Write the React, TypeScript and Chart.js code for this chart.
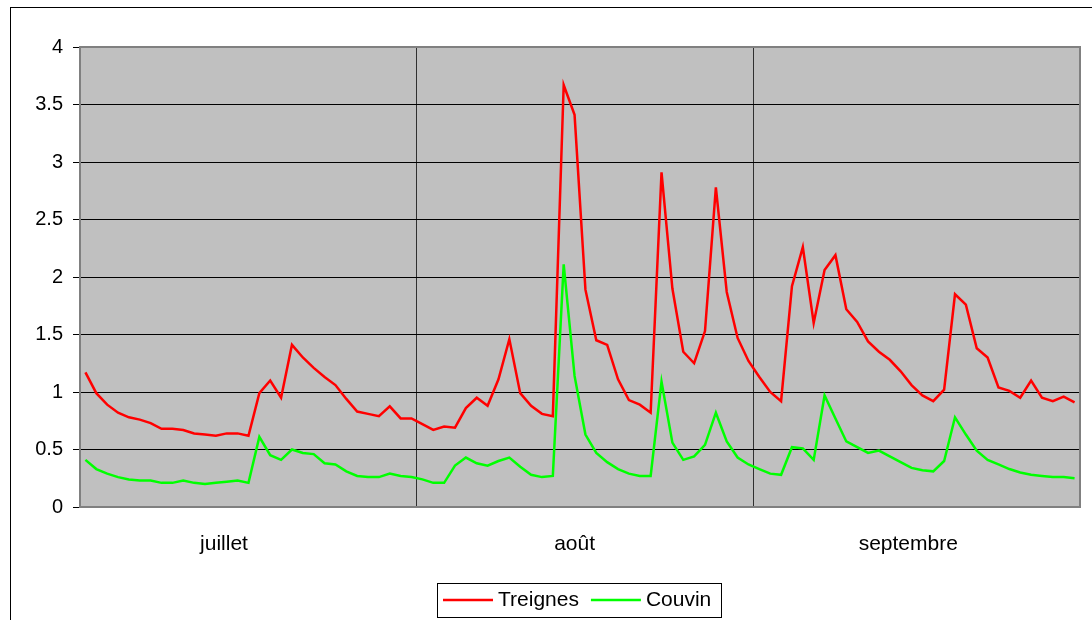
import React, { useEffect, useRef } from 'react';
import { Chart, registerables } from 'chart.js';

Chart.register(...registerables);

// ---- data ----
const months = ['juillet', 'août', 'septembre'];
const daysInMonth = [31, 31, 30];
const yTickValues = [0, 0.5, 1, 1.5, 2, 2.5, 3, 3.5, 4];
const seriesLabels = ['Treignes', 'Couvin'];

const treignesJuillet = [1.17, 0.99, 0.89, 0.82, 0.78, 0.76, 0.73, 0.68, 0.68, 0.67, 0.64, 0.63, 0.62, 0.64, 0.64, 0.62, 0.99, 1.10, 0.95, 1.41, 1.30, 1.21, 1.13, 1.06, 0.94, 0.83, 0.81, 0.79, 0.875, 0.77, 0.77];
const treignesAout = [0.72, 0.67, 0.70, 0.69, 0.86, 0.95, 0.88, 1.11, 1.46, 0.99, 0.88, 0.81, 0.79, 3.67, 3.41, 1.89, 1.45, 1.41, 1.11, 0.93, 0.89, 0.82, 2.91, 1.90, 1.35, 1.25, 1.53, 2.78, 1.87, 1.47, 1.27];
const treignesSeptembre = [1.13, 1.00, 0.92, 1.92, 2.26, 1.60, 2.06, 2.19, 1.72, 1.61, 1.44, 1.35, 1.28, 1.18, 1.06, 0.97, 0.92, 1.02, 1.85, 1.76, 1.38, 1.30, 1.04, 1.01, 0.95, 1.10, 0.95, 0.92, 0.96, 0.91];

const couvinJuillet = [0.41, 0.33, 0.29, 0.26, 0.24, 0.23, 0.23, 0.21, 0.21, 0.23, 0.21, 0.20, 0.21, 0.22, 0.23, 0.21, 0.61, 0.45, 0.41, 0.50, 0.47, 0.46, 0.38, 0.37, 0.31, 0.27, 0.26, 0.26, 0.29, 0.27, 0.26];
const couvinAout = [0.24, 0.21, 0.21, 0.36, 0.43, 0.38, 0.36, 0.40, 0.43, 0.35, 0.28, 0.26, 0.27, 2.11, 1.14, 0.63, 0.47, 0.39, 0.33, 0.29, 0.27, 0.27, 1.09, 0.56, 0.41, 0.44, 0.54, 0.82, 0.57, 0.43, 0.37];
const couvinSeptembre = [0.33, 0.29, 0.28, 0.52, 0.51, 0.41, 0.97, 0.77, 0.57, 0.52, 0.47, 0.49, 0.44, 0.39, 0.34, 0.32, 0.31, 0.40, 0.78, 0.63, 0.49, 0.41, 0.37, 0.33, 0.30, 0.28, 0.27, 0.26, 0.26, 0.25];

// ---- layout (not data) ----
const monthLabelCenters = [13.25, 45.5, 76.2]; // in day units along the axis
const FONT = "'Liberation Sans', Arial, Helvetica, sans-serif";

const treignes = [...treignesJuillet, ...treignesAout, ...treignesSeptembre];
const couvin = [...couvinJuillet, ...couvinAout, ...couvinSeptembre];
const totalDays = daysInMonth.reduce((a, b) => a + b, 0);
const boundaries = daysInMonth.reduce((acc: number[], d) => [...acc, acc[acc.length - 1] + d], [0]);

const framePlugin = {
  id: 'framePlugin',
  beforeDraw(chart: any) {
    const { ctx, chartArea: a } = chart;
    ctx.save();
    ctx.fillStyle = '#ffffff';
    ctx.fillRect(0, 0, chart.width, chart.height);
    ctx.fillStyle = '#C0C0C0';
    ctx.fillRect(a.left, a.top, a.right - a.left, a.bottom - a.top);
    ctx.restore();
  },
  beforeDatasetsDraw(chart: any) {
    const { ctx, chartArea: a } = chart;
    ctx.save();
    ctx.strokeStyle = '#808080';
    ctx.lineWidth = 2;
    ctx.strokeRect(a.left, a.top, a.right - a.left, a.bottom - a.top);
    ctx.restore();
  },
  afterDraw(chart: any) {
    const { ctx } = chart;
    ctx.save();
    // outer chart frame
    ctx.strokeStyle = '#000000';
    ctx.lineWidth = 1;
    ctx.strokeRect(10.5, 7.5, 3000, 3000);

    // legend
    const fontSize = 21;
    ctx.font = `${fontSize}px ${FONT}`;
    const lineLen = 50;
    const gapLineText = 5;
    const gapItems = 12;
    const boxLeft = 437.5;
    const boxTop = 583.5;
    const boxH = 34;
    const midY = 600;
    let x = boxLeft + 5.5;
    const items = chart.data.datasets.map((ds: any) => ({ label: ds.label, color: ds.borderColor }));
    const positions: { x: number; w: number }[] = [];
    items.forEach((it: any) => {
      const w = ctx.measureText(it.label).width;
      positions.push({ x, w });
      x += lineLen + gapLineText + w + gapItems;
    });
    const boxRight = x - gapItems + 10;
    ctx.fillStyle = '#ffffff';
    ctx.fillRect(boxLeft, boxTop, boxRight - boxLeft, boxH);
    ctx.strokeStyle = '#000000';
    ctx.lineWidth = 1;
    ctx.strokeRect(boxLeft, boxTop, Math.round(boxRight - boxLeft), boxH);
    items.forEach((it: any, i: number) => {
      const p = positions[i];
      ctx.strokeStyle = it.color;
      ctx.lineWidth = 2.5;
      ctx.beginPath();
      ctx.moveTo(p.x, midY);
      ctx.lineTo(p.x + lineLen, midY);
      ctx.stroke();
      ctx.fillStyle = '#000000';
      ctx.textBaseline = 'middle';
      ctx.textAlign = 'left';
      ctx.fillText(it.label, p.x + lineLen + gapLineText, midY);
    });
    ctx.restore();
  },
};

export default function App() {
  const canvasRef = useRef<HTMLCanvasElement | null>(null);

  useEffect(() => {
    if (!canvasRef.current) return;
    const transparent = 'rgba(0,0,0,0)';
    const chart = new Chart(canvasRef.current, {
      type: 'line',
      data: {
        datasets: [
          {
            label: seriesLabels[0],
            data: treignes.map((v, i) => ({ x: i + 0.5, y: v })),
            borderColor: '#FF0000',
            backgroundColor: '#FF0000',
            borderWidth: 2.5,
            pointRadius: 0,
            tension: 0,
            fill: false,
          },
          {
            label: seriesLabels[1],
            data: couvin.map((v, i) => ({ x: i + 0.5, y: v })),
            borderColor: '#00FF00',
            backgroundColor: '#00FF00',
            borderWidth: 2.5,
            pointRadius: 0,
            tension: 0,
            fill: false,
          },
        ],
      },
      options: {
        animation: false,
        responsive: false,
        layout: { padding: { left: 0, right: 80, top: 47, bottom: 0 } },
        plugins: { legend: { display: false }, tooltip: { enabled: false }, title: { display: false } },
        font: { family: FONT },
        scales: {
          x: {
            type: 'linear',
            position: 'bottom',
            min: 0,
            max: totalDays,
            weight: 0,
            afterBuildTicks: (s: any) => {
              s.ticks = boundaries.map((v) => ({ value: v }));
            },
            afterFit: (s: any) => {
              s.height = 0;
            },
            ticks: { display: false },
            grid: {
              drawTicks: false,
              lineWidth: 1,
              color: (c: any) =>
                c.tick && c.tick.value > 0 && c.tick.value < totalDays ? '#303030' : transparent,
            },
            border: { display: false },
          },
          x2: {
            type: 'linear',
            position: 'bottom',
            axis: 'x',
            min: 0,
            max: totalDays,
            weight: 1,
            afterBuildTicks: (s: any) => {
              s.ticks = monthLabelCenters.map((v) => ({ value: v }));
            },
            afterFit: (s: any) => {
              s.height = 133;
            },
            ticks: {
              autoSkip: false,
              maxRotation: 0,
              minRotation: 0,
              padding: 25,
              color: '#000000',
              font: { family: FONT, size: 21 },
              callback: (_v: any, i: number) => months[i],
            },
            grid: { display: false, drawTicks: false },
            border: { display: false },
          },
          y: {
            type: 'linear',
            min: 0,
            max: 4,
            afterBuildTicks: (s: any) => {
              s.ticks = yTickValues.map((v) => ({ value: v }));
            },
            afterFit: (s: any) => {
              s.width = 80;
            },
            ticks: {
              padding: 10,
              color: '#000000',
              font: { family: FONT, size: 20 },
              callback: (v: any) => String(v),
            },
            grid: {
              drawTicks: true,
              tickLength: 7,
              tickColor: '#000000',
              lineWidth: 1,
              color: (c: any) =>
                c.tick && (c.tick.value === 0 || c.tick.value === 4) ? transparent : '#000000',
            },
            border: { display: false },
          },
        },
      } as any,
      plugins: [framePlugin],
    });
    return () => chart.destroy();
  }, []);

  return (
    <div
      style={{
        position: 'fixed',
        left: 0,
        top: 0,
        width: 1092,
        height: 620,
        overflow: 'hidden',
        background: '#ffffff',
      }}
    >
      <canvas ref={canvasRef} width={1160} height={640} style={{ display: 'block', width: 1160, height: 640 }} />
    </div>
  );
}
